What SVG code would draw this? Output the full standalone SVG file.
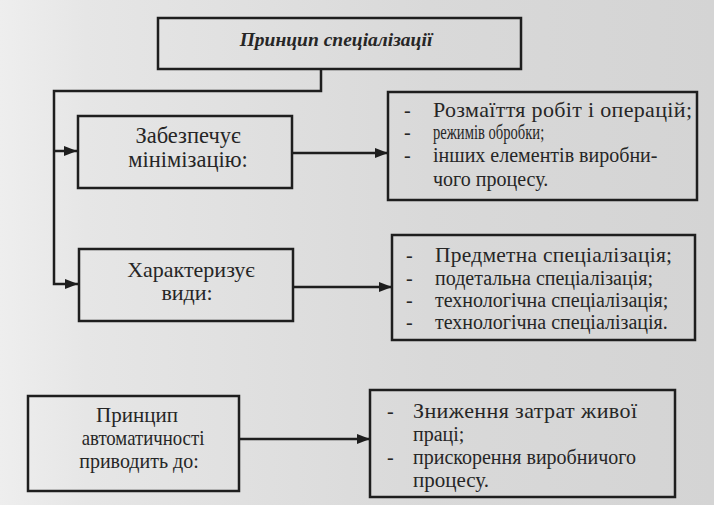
<svg xmlns="http://www.w3.org/2000/svg" width="714" height="505" viewBox="0 0 714 505">
<defs>
<linearGradient id="bg" x1="0" y1="0" x2="1" y2="0">
<stop offset="0" stop-color="#eeeeee"/>
<stop offset="0.12" stop-color="#e6e6e6"/>
<stop offset="0.6" stop-color="#d9d9d9"/>
<stop offset="1" stop-color="#d4d4d4"/>
</linearGradient>
<marker id="ah" viewBox="0 0 13 10" refX="13" refY="5" markerWidth="13" markerHeight="10" markerUnits="userSpaceOnUse" orient="auto">
<path d="M0,0 L13,5 L0,10 Z" fill="#1e1e1e"/>
</marker>
</defs>
<style>
.box{fill:none;stroke:#1e1e1e;stroke-width:2.5}
.ln{fill:none;stroke:#1e1e1e;stroke-width:2.5}
.t{font-family:"Liberation Serif","Times New Roman",serif;font-size:20px;fill:#262626}
.c{text-anchor:middle}
.title{font-family:"Liberation Serif","Times New Roman",serif;font-size:19.5px;font-weight:bold;font-style:italic;fill:#262626}
</style>
<rect x="0" y="0" width="714" height="505" fill="url(#bg)"/>

<g id="connectors">
<path class="ln" d="M321,69 V91 H54 V284 H78" marker-end="url(#ah)"/>
<path class="ln" d="M54,151 H77" marker-end="url(#ah)"/>
<path class="ln" d="M292,153 H388" marker-end="url(#ah)"/>
<path class="ln" d="M293,287 H392" marker-end="url(#ah)"/>
<path class="ln" d="M239,439 H370" marker-end="url(#ah)"/>
</g>

<g id="title">
<rect class="box" x="158" y="18" width="363" height="51"/>
<text class="title c" x="336" y="46">Принцип спеціалізації</text>
</g>

<g id="minimization">
<rect class="box" x="78" y="116" width="214" height="72"/>
<text class="t c" x="188" y="143" style="font-size:22.5px">Забезпечує</text>
<text class="t c" x="188" y="167" style="font-size:22.5px">мінімізацію:</text>
</g>

<g id="variety">
<rect class="box" x="388" y="92" width="309" height="108"/>
<text class="t" x="404" y="117">-</text>
<text class="t" x="404" y="139">-</text>
<text class="t" x="404" y="162">-</text>
<text class="t" x="433" y="117" style="font-size:22px" textLength="259" lengthAdjust="spacing">Розмаїття робіт і операцій;</text>
<text class="t" transform="translate(433,139) scale(0.73,1)" x="0" y="0">режимів обробки;</text>
<text class="t" x="433" y="162">інших елементів виробни-</text>
<text class="t" x="433" y="186">чого процесу.</text>
</g>

<g id="types">
<rect class="box" x="79" y="249" width="214" height="72"/>
<text class="t c" x="191" y="277" style="font-size:22px">Характеризує</text>
<text class="t c" x="187" y="300" style="font-size:22px">види:</text>
</g>

<g id="specializations">
<rect class="box" x="392" y="235" width="303" height="105"/>
<text class="t" x="406" y="262">-</text>
<text class="t" x="406" y="285">-</text>
<text class="t" x="406" y="307">-</text>
<text class="t" x="406" y="329">-</text>
<text class="t" x="435" y="262" style="font-size:21.5px" textLength="237" lengthAdjust="spacing">Предметна спеціалізація;</text>
<text class="t" x="435" y="285">подетальна спеціалізація;</text>
<text class="t" x="435" y="307">технологічна спеціалізація;</text>
<text class="t" x="435" y="329">технологічна спеціалізація.</text>
</g>

<g id="automation">
<rect class="box" x="28" y="396" width="211" height="95"/>
<text class="t c" x="137" y="422" style="font-size:21px">Принцип</text>
<text class="t c" transform="translate(143,445) scale(0.94,1)" x="0" y="0">автоматичності</text>
<text class="t c" x="139" y="468">приводить до:</text>
</g>

<g id="effects">
<rect class="box" x="370" y="390" width="305" height="107"/>
<text class="t" x="387" y="418">-</text>
<text class="t" x="387" y="464">-</text>
<text class="t" x="413" y="418" style="font-size:22px" textLength="224" lengthAdjust="spacing">Зниження затрат живої</text>
<text class="t" x="413" y="441">праці;</text>
<text class="t" x="413" y="464">прискорення виробничого</text>
<text class="t" x="413" y="487" style="font-size:21px">процесу.</text>
</g>
</svg>
